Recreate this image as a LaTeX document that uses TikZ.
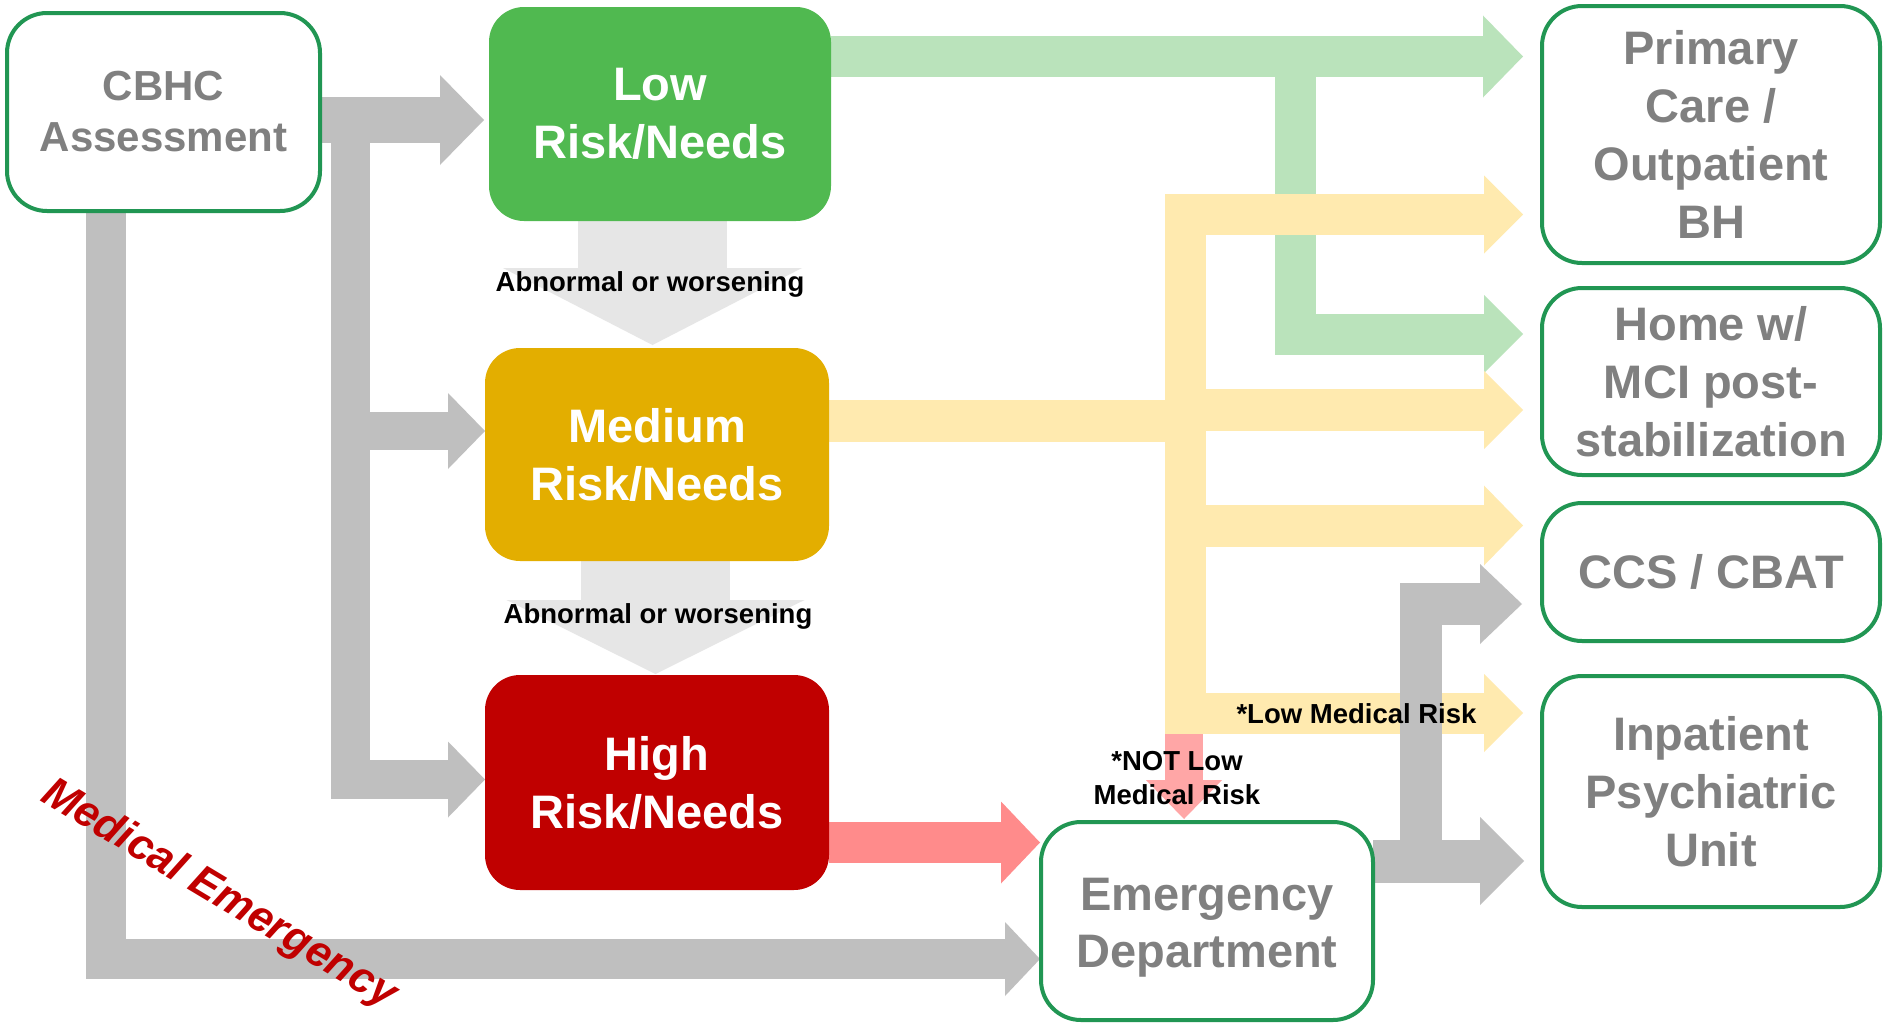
\documentclass[tikz,border=0pt]{standalone}
\usepackage{fontspec}
\setmainfont{Liberation Sans}
\usetikzlibrary{arrows.meta}
\definecolor{bgreen}{RGB}{33,150,83}
\definecolor{tgray}{RGB}{128,128,128}
\definecolor{lowgreen}{RGB}{80,185,80}
\definecolor{medamber}{RGB}{227,174,0}
\definecolor{highred}{RGB}{192,0,0}
\definecolor{agreen}{RGB}{186,227,187}
\definecolor{ayellow}{RGB}{255,234,175}
\definecolor{agray}{RGB}{191,191,191}
\definecolor{alight}{RGB}{230,230,230}
\definecolor{ared}{RGB}{255,139,139}
\definecolor{apink}{RGB}{255,166,166}
\pgfdeclarelayer{bglayer}
\pgfdeclarelayer{arrowlayer}
\pgfsetlayers{bglayer,arrowlayer,main}
\tikzset{
  outbox/.style={draw=bgreen, line width=4pt, fill=white, rounded corners=40pt, align=center,
    text=tgray, inner sep=0pt, outer sep=0pt, font=\bfseries\fontsize{47}{58}\selectfont},
  boxtext/.style={align=center, text=tgray, inner sep=0pt, font=\bfseries\fontsize{47}{57}\selectfont},
  riskbox/.style={rounded corners=35pt, align=center, text=white, inner sep=0pt, outer sep=0pt,
    font=\bfseries\fontsize{47}{58}\selectfont},
  lab/.style={inner sep=0pt, font=\bfseries\fontsize{27.5}{34}\selectfont, align=center, text=black},
  band/.style={line width=#1, line join=miter, line cap=butt},
  atip/.style 2 args={-{Triangle[length=#1,width=#2,line width=0pt]}},
}
\begin{document}
\begin{tikzpicture}[x=1pt,y=-1pt]
\useasboundingbox (0,0) rectangle (1883,1023);
\begin{pgfonlayer}{bglayer}
  \fill[white] (0,0) rectangle (1883,1023);
\end{pgfonlayer}

% ---------- boxes ----------
\node[outbox, minimum width=313pt, minimum height=198pt, font=\bfseries\fontsize{42}{51}\selectfont]
  (cbhc) at (163.5,112) {CBHC\\Assessment};
\node[riskbox, fill=lowgreen, minimum width=342pt, minimum height=214pt] (low) at (660,114) {Low\\Risk/Needs};
\node[riskbox, fill=medamber, minimum width=344pt, minimum height=213pt] (med) at (657,454.5) {Medium\\Risk/Needs};
\node[riskbox, fill=highred, minimum width=344pt, minimum height=215pt] (high) at (657,782.5) {High\\Risk/Needs};
\node[outbox, minimum width=338pt, minimum height=257pt] (prim) at (1711,134.5) {Primary\\Care /\\Outpatient\\BH};
\node[outbox, minimum width=338pt, minimum height=187pt] (home) at (1711,381.5) {Home w/\\MCI post-\\stabilization};
\node[outbox, minimum width=338pt, minimum height=138pt] (ccs) at (1711,572) {CCS / CBAT};
\node[outbox, minimum width=338pt, minimum height=231pt] (inpt) at (1711,791.5) {Inpatient\\Psychiatric\\Unit};
\node[outbox, minimum width=332pt, minimum height=198pt] (ed) at (1207,921) {};
\node[boxtext] (edtext) at (1207,928) {Emergency\\Department};

% ---------- junction coordinates ----------
\coordinate (gsplit) at (1295.5,56.5);
\coordinate (ytop) at (1185,214.5);
\coordinate (ybot) at (1185,713);
\coordinate (pinkstart) at (1184,734);
\coordinate (edsplit) at (1421,861);
\coordinate (lsplit) at (350,120);

% ---------- connectors ----------
\begin{pgfonlayer}{arrowlayer}
  % light gray "abnormal or worsening"
  \draw[alight, band=149pt, atip={77pt}{299pt}, shorten >=3pt] (low.south -| 652.5,0) -- (med.north -| 652.5,0);
  \draw[alight, band=149pt, atip={74pt}{298pt}, shorten >=1pt] (med.south -| 655.5,0) -- (high.north -| 655.5,0);

  % green (low risk)
  \draw[agreen, band=41pt, atip={40pt}{82pt}, shorten >=19pt] (low.east |- gsplit) -- (prim.west |- gsplit);
  \draw[agreen, band=41pt, atip={39pt}{78pt}, shorten >=19pt] (gsplit) |- (home.west |- 0,334);

  % yellow (medium risk)
  \draw[ayellow, band=42pt] (med.east |- 0,421) -- (ytop |- 0,421);
  \draw[ayellow, band=41pt, atip={39pt}{78pt}, shorten >=19pt] (ybot) -- (ytop) -- (prim.west |- ytop);
  \draw[ayellow, band=41pt, atip={39pt}{78pt}, shorten >=19pt] (ytop) |- (inpt.west |- ybot);
  \draw[ayellow, band=42pt, atip={39pt}{78pt}, shorten >=19pt] (ytop |- 0,410) -- (home.west |- 0,410);
  \draw[ayellow, band=42pt, atip={39pt}{80pt}, shorten >=19pt] (ytop |- 0,525.5) -- (ccs.west |- 0,525.5);

  % pink: not low medical risk
  \draw[apink, band=38pt, atip={39pt}{76pt}, shorten >=3pt] (pinkstart) -- (ed.north -| pinkstart);

  % gray from ED
  \draw[agray, band=43pt, atip={44pt}{88pt}, shorten >=18pt] (ed.east |- edsplit) -- (inpt.west |- edsplit);
  \draw[agray, band=42pt, atip={42pt}{80pt}, shorten >=20pt] (edsplit) |- (ccs.west |- 0,604);

  % red: high -> ED
  \draw[ared, band=41pt, atip={39pt}{82pt}, shorten >=1pt] (high.east |- 0,842.5) -- (ed.west |- 0,842.5);

  % gray from CBHC
  \draw[agray, band=46pt, atip={44pt}{90pt}, shorten >=5pt] (cbhc.east |- lsplit) -- (low.west |- lsplit);
  \draw[agray, band=38pt, atip={37pt}{76pt}] (lsplit) |- (med.west |- 0,431);
  \draw[agray, band=39pt, atip={37pt}{76pt}] (lsplit) |- (high.west |- 0,779.5);
  \draw[agray, band=40pt, atip={35pt}{74pt}, shorten >=1pt] (cbhc.south -| 106,0) |- (ed.west |- 0,959);
\end{pgfonlayer}

% ---------- labels ----------
\node[lab] (abn1) at (650,284) {Abnormal or worsening};
\node[lab] (abn2) at (658,616) {Abnormal or worsening};
\node[lab] (lowmr) at (1356.5,714) {*Low Medical Risk};
\node[lab] (notlow) at (1177,778) {*NOT Low\\Medical Risk};
\node[inner sep=0pt, text=highred, rotate=-31, font=\bfseries\itshape\fontsize{43.5}{50}\selectfont]
  (medem) at (219,895) {Medical Emergency};
\end{tikzpicture}
\end{document}
